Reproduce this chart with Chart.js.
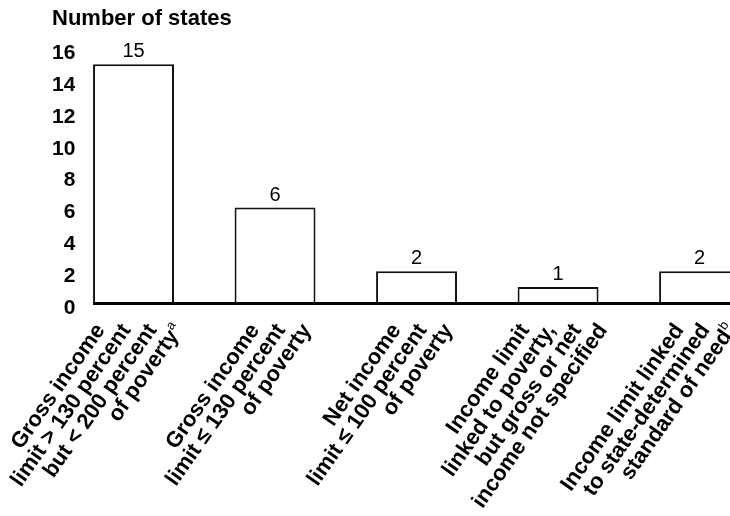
<!DOCTYPE html>
<html>
<head>
<meta charset="utf-8">
<script src="https://cdn.jsdelivr.net/npm/chart.js@4"></script>
<style>
  html, body { margin: 0; padding: 0; background: #fff; overflow: hidden; }
</style>
</head>
<body>
<canvas id="statesChart" width="730" height="516"></canvas>
<script>
const categories = [
    ['Gross income', 'limit > 130 percent', 'but < 200 percent', 'of poverty'],
    ['Gross income', 'limit \u2264 130 percent', 'of poverty'],
    ['Net income', 'limit \u2264 100 percent', 'of poverty'],
    ['Income limit', 'linked to poverty,', 'but gross or net', 'income not specified'],
    ['Income limit linked', 'to state-determined', 'standard of need']
];
const footnotes = ['a', '', '', '', 'b'];
const stateCounts = [15, 6, 2, 1, 2];
const yTickValues = [0, 2, 4, 6, 8, 10, 12, 14, 16];

const fontFamily = '"Liberation Sans", Arial, Helvetica, sans-serif';
const ctx = document.getElementById('statesChart').getContext('2d');

// thick x axis line, starts at the left edge of the first bar
const baselinePlugin = {
    id: 'baseline',
    afterDatasetsDraw(chart) {
        const c = chart.ctx;
        const first = chart.getDatasetMeta(0).data[0];
        const y = chart.scales.y.getPixelForValue(0) + 0.5;
        c.save();
        c.strokeStyle = '#000';
        c.lineWidth = 3;
        c.beginPath();
        c.moveTo(first.x - first.width / 2, y);
        c.lineTo(chart.chartArea.right, y);
        c.stroke();
        c.restore();
    }
};

const valueLabelPlugin = {
    id: 'valueLabels',
    afterDatasetsDraw(chart) {
        const c = chart.ctx;
        c.save();
        c.font = '20px ' + fontFamily;
        c.fillStyle = '#000';
        c.textAlign = 'center';
        c.textBaseline = 'alphabetic';
        chart.getDatasetMeta(0).data.forEach((bar, i) => {
            c.fillText(String(stateCounts[i]), bar.x, bar.y - 7);
        });
        c.restore();
    }
};

// rotated multi-line category labels, line ends stepped along a horizontal line
const categoryLabelPlugin = {
    id: 'categoryLabels',
    afterDraw(chart) {
        const c = chart.ctx;
        const xScale = chart.scales.x;
        const baseY = chart.chartArea.bottom + 27;
        const labelFont = 'bold 22px ' + fontFamily;
        const supFont = '13px ' + fontFamily;
        c.save();
        c.fillStyle = '#000';
        c.textBaseline = 'alphabetic';
        categories.forEach((lines, i) => {
            const cx = xScale.getPixelForValue(i);
            lines.forEach((line, j) => {
                const sup = j === lines.length - 1 ? footnotes[i] : '';
                c.save();
                c.translate(cx + (j - (lines.length - 1) / 2) * 26 + 11, baseY);
                c.rotate(-55 * Math.PI / 180);
                c.font = supFont;
                const supW = sup ? c.measureText(sup).width : 0;
                c.font = labelFont;
                c.textAlign = 'right';
                c.fillText(line, -supW, 0);
                if (sup) {
                    c.font = supFont;
                    c.textAlign = 'left';
                    c.fillText(sup, -supW, -9);
                }
                c.restore();
            });
        });
        c.restore();
    }
};

const statesChart = new Chart(ctx, {
    type: 'bar',
    data: {
        datasets: [{
            label: 'Number of states',
            data: stateCounts.map((v, i) => ({ x: i, y: v })),
            backgroundColor: '#fff',
            borderColor: '#111',
            borderWidth: 2,
            borderSkipped: 'bottom',
            barPercentage: 0.572,
            categoryPercentage: 1
        }]
    },
    options: {
        responsive: false,
        animation: false,
        layout: {
            padding: { left: 52, right: 0, top: 0, bottom: 213 }
        },
        plugins: {
            legend: { display: false },
            tooltip: { enabled: false },
            title: {
                display: true,
                text: 'Number of states',
                align: 'start',
                color: '#000',
                font: { family: fontFamily, size: 22, weight: 'bold' },
                padding: { top: 6, bottom: 16 }
            }
        },
        scales: {
            x: {
                type: 'linear',
                display: false,
                offset: false,
                min: -0.411,
                max: 4.215,
                afterBuildTicks: axis => {
                    axis.ticks = categories.map((c, i) => ({ value: i }));
                }
            },
            y: {
                min: 0,
                max: 16,
                border: { display: false },
                grid: { display: false, drawTicks: false, tickLength: 0 },
                afterBuildTicks: axis => {
                    axis.ticks = yTickValues.map(v => ({ value: v }));
                },
                ticks: {
                    padding: 0,
                    color: '#000',
                    font: { family: fontFamily, size: 21, weight: 'bold', lineHeight: 10 / 21 },
                    // empty first line nudges each label a few pixels down
                    callback: v => ['', String(v)]
                }
            }
        }
    },
    plugins: [baselinePlugin, valueLabelPlugin, categoryLabelPlugin]
});
</script>
</body>
</html>
